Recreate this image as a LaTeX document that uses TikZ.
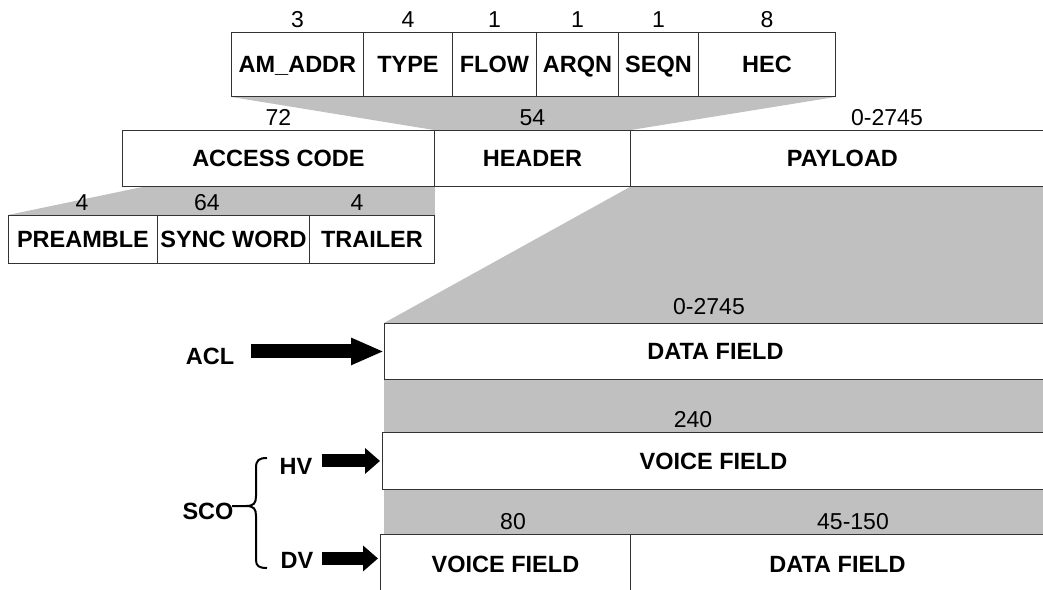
\documentclass[tikz,border=0pt]{standalone}
\usepackage{fontspec}
\setmainfont{Liberation Sans}
\usetikzlibrary{arrows.meta,calc}
\pgfdeclarelayer{bg}
\pgfsetlayers{bg,main}
\definecolor{band}{HTML}{C0C0C0}
\definecolor{edge}{HTML}{333333}
\begin{document}
\begin{tikzpicture}[x=1pt,y=-1pt,
  cell/.style={draw=edge, line width=0.9pt, anchor=north west, inner sep=0pt,
    text height=17pt, text depth=0pt,
    font=\bfseries\fontsize{23.5}{27}\selectfont},
  num/.style={inner sep=0pt, anchor=south, font=\fontsize{23}{27}\selectfont},
  lab/.style={inner sep=0pt, font=\bfseries\fontsize{23.5}{27}\selectfont},
  bigarrow/.style={line width=14pt, -{Triangle[length=33pt,width=25pt]}},
  smallarrow/.style={line width=13pt, -{Triangle[length=15pt,width=25pt]}, shorten >=2pt}]
\useasboundingbox (0,0) rectangle (1043,589);
\clip (0,0) rectangle (1043,589);

% header bits
\node[cell, minimum width=132pt, minimum height=64pt] (am)   at (231,32) {AM\_ADDR};
\node[cell, minimum width=89pt,  minimum height=64pt] (type) at (363,32) {TYPE};
\node[cell, minimum width=84pt,  minimum height=64pt] (flow) at (452,32) {FLOW};
\node[cell, minimum width=82pt,  minimum height=64pt] (arqn) at (536,32) {ARQN};
\node[cell, minimum width=80pt,  minimum height=64pt] (seqn) at (618,32) {SEQN};
\node[cell, minimum width=137pt, minimum height=64pt] (hec)  at (698,32) {HEC};
\node[num] (n3)  at ([yshift=4pt]am.north)   {3};
\node[num] (n4)  at ([yshift=4pt]type.north) {4};
\node[num] (n1a) at ([yshift=4pt]flow.north) {1};
\node[num] (n1b) at ([yshift=4pt]arqn.north) {1};
\node[num] (n1c) at ([yshift=4pt]seqn.north) {1};
\node[num] (n8)  at ([yshift=4pt]hec.north)  {8};

% main packet
\node[cell, minimum width=312pt, minimum height=56pt] (ac)  at (122,130) {ACCESS CODE};
\node[cell, minimum width=196pt, minimum height=56pt] (hdr) at (434,130) {HEADER};
\node[cell, minimum width=424pt, minimum height=56pt] (pl)  at (630,130) {PAYLOAD};
\node[num] (n72) at ([yshift=4pt]ac.north)  {72};
\node[num] (n54) at ([yshift=4pt]hdr.north) {54};
\node[num] (npl) at (887,126) {0-2745};

% access code parts
\node[cell, minimum width=149pt, minimum height=48pt] (pre) at (8,215)   {PREAMBLE};
\node[cell, minimum width=152pt, minimum height=48pt] (syn) at (157,215) {SYNC WORD};
\node[cell, minimum width=125pt, minimum height=48pt] (tr)  at (309,215) {TRAILER};
\node[num] (n4a) at (82,211)  {4};
\node[num] (n64) at (207,211) {64};
\node[num] (n4b) at (357,211) {4};

% payload formats
\node[cell, minimum width=662pt, minimum height=56pt] (df) at (384,323) {DATA FIELD};
\node[num] (ndf) at (709,315) {0-2745};
\node[cell, minimum width=662pt, minimum height=57pt] (vf) at (382,432) {VOICE FIELD};
\node[num] (nvf) at (693,428) {240};
\node[cell, minimum width=250pt, minimum height=60pt] (vb) at (380,534) {VOICE FIELD};
\node[cell, minimum width=414pt, minimum height=60pt] (db) at (630,534) {DATA FIELD};
\node[num] (n80)  at (513,530) {80};
\node[num] (n45)  at (853,530) {45-150};

% grey fans and bands
\begin{pgfonlayer}{bg}
\fill[band] (am.south west) -- (hec.south east) -- (hdr.north east) -- (hdr.north west) -- cycle;
\fill[band] (147,186) -- (ac.south east) -- (tr.north east) -- (pre.north west) -- cycle;
\fill[band] (pl.south west) -- (1060,186) -- (1060,323) -- (df.north west) -- cycle;
\fill[band] (df.south west) rectangle (1060,432);
\fill[band] (384,489) rectangle (1060,534);
\end{pgfonlayer}

% left labels and arrows
\node[lab] (acl) at (210,356) {ACL};
\node[lab] (hv)  at (296,466) {HV};
\node[lab] (dv)  at (297,560) {DV};
\node[lab] (sco) at (208,511) {SCO};
\coordinate (dvt) at ([yshift=6pt]vb.west);
\draw[bigarrow] ($(df.west -| acl.east)+(17,0)$) -- (df.west);
\draw[smallarrow] ($(vf.west -| hv.east)+(9,0)$) -- (vf.west);
\draw[smallarrow] ($(dvt -| dv.east)+(8,0)$) -- (dvt);

% brace
\draw[line width=2pt] (267,458) .. controls (259,458) and (256,460) .. (256,468)
  -- (256,496) .. controls (256,503) and (254,506) .. (246,506) -- (232,506)
  (246,506) .. controls (254,506) and (256,509) .. (256,516)
  -- (256,560) .. controls (256,566) and (259,568) .. (267,568);
\end{tikzpicture}
\end{document}
